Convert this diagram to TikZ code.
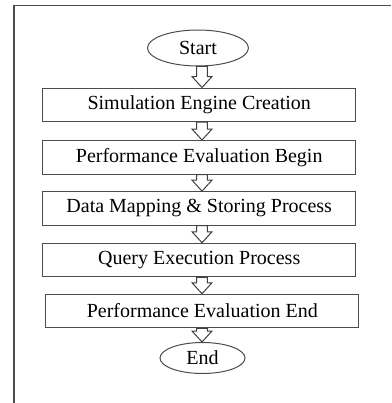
\documentclass[tikz,border=0pt]{standalone}
\usepackage{fontspec}
\setmainfont{Liberation Serif}
\usetikzlibrary{shapes.geometric,calc}

\tikzset{
  procbox/.style={draw=black!70, line width=1pt, fill=white, inner sep=0pt,
    minimum width=313pt, minimum height=33.5pt,
    font=\fontsize{20}{24}\selectfont},
  terminal/.style={draw=black!70, line width=1pt, ellipse, inner sep=0pt,
    font=\fontsize{20}{24}\selectfont},
  blockarrow/.style={draw=black!75, line width=1pt, fill=white, line join=miter},
  frameline/.style={draw=black!70, line width=1.6pt}
}

% hollow block arrow from the bottom of #1 to the top of #2
\newcommand\flowarrow[2]{%
  \draw[blockarrow] let \p1=(ax |- #1.south), \p2=(ax |- #2.north) in
    (\x1-5.3pt,\y1) -- (\x1+5.3pt,\y1) -- (\x1+5.3pt,\y2+11pt)
    -- (\x1+10pt,\y2+11pt) -- (\x1,\y2) -- (\x1-10pt,\y2+11pt)
    -- (\x1-5.3pt,\y2+11pt) -- cycle;}

\begin{document}
\begin{tikzpicture}[x=1pt,y=-1pt]
  \useasboundingbox (0,0) rectangle (391,403);

  % open frame: top and left edges
  \draw[frameline] (391,5.5) -- (14,5.5) -- (14,403);

  \coordinate (ax) at (202,0);

  \node[terminal, minimum width=101pt, minimum height=36pt] (start) at (198,48) {Start};
  \node[procbox] (sim)   at (199.2,104.8) {Simulation Engine Creation};
  \node[procbox] (pbeg)  at (199.2,157.3) {Performance Evaluation Begin};
  \node[procbox] (map)   at (199.2,208.4) {Data Mapping \& Storing Process};
  \node[procbox] (query) at (199.2,260)   {Query Execution Process};
  \node[procbox] (pend)  at (202.3,311)   {Performance Evaluation End};
  \node[terminal, minimum width=85pt, minimum height=31pt] (end) at (202.5,358) {End};

  \flowarrow{start}{sim}
  \flowarrow{sim}{pbeg}
  \flowarrow{pbeg}{map}
  \flowarrow{map}{query}
  \flowarrow{query}{pend}
  \flowarrow{pend}{end}
\end{tikzpicture}
\end{document}
